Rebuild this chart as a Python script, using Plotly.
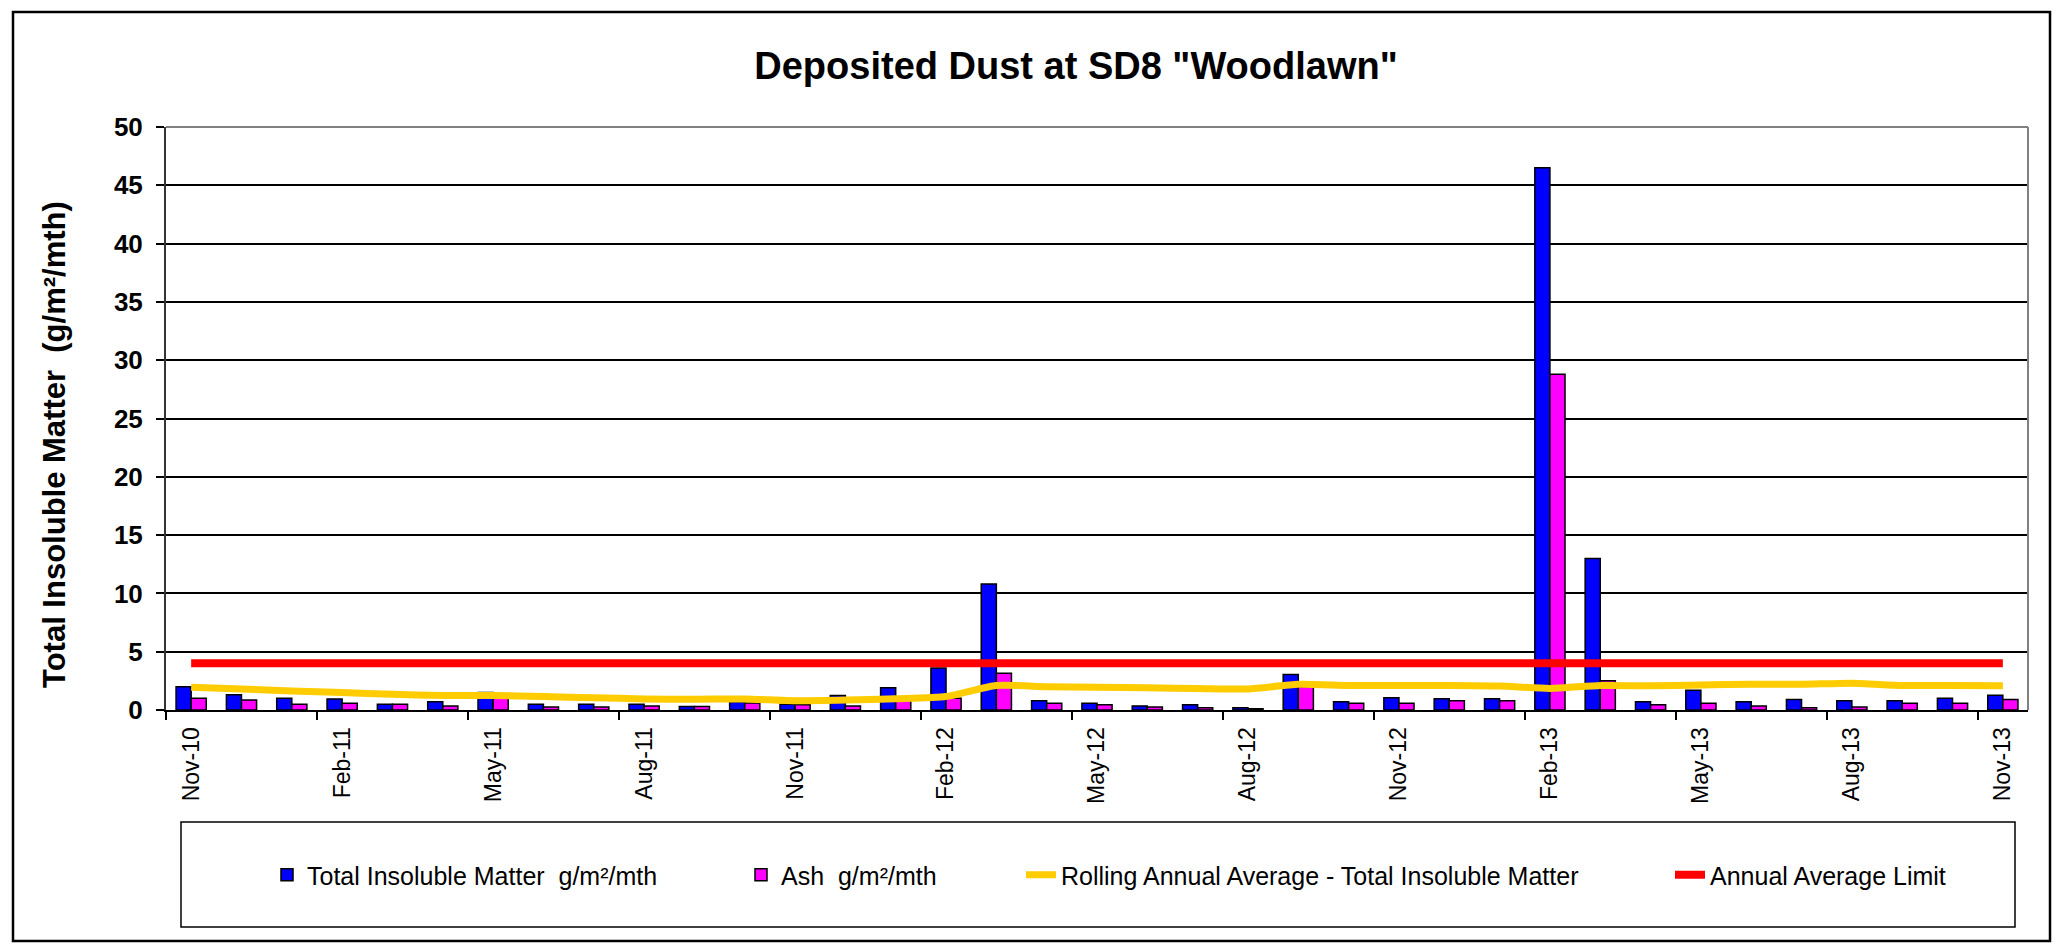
import plotly.graph_objects as go

months = ["Nov-10", "Dec-10", "Jan-11", "Feb-11", "Mar-11", "Apr-11", "May-11", "Jun-11", "Jul-11",
          "Aug-11", "Sep-11", "Oct-11", "Nov-11", "Dec-11", "Jan-12", "Feb-12", "Mar-12", "Apr-12",
          "May-12", "Jun-12", "Jul-12", "Aug-12", "Sep-12", "Oct-12", "Nov-12", "Dec-12", "Jan-13",
          "Feb-13", "Mar-13", "Apr-13", "May-13", "Jun-13", "Jul-13", "Aug-13", "Sep-13", "Oct-13",
          "Nov-13"]
tim = [2.0, 1.3, 1.0, 0.95, 0.5, 0.7, 1.5, 0.5, 0.5, 0.5, 0.3, 0.7, 0.5, 1.25, 1.9, 3.6, 10.8, 0.8,
       0.57, 0.35, 0.46, 0.2, 3.05, 0.7, 1.06, 0.97, 0.97, 46.5, 13.0, 0.7, 1.7, 0.7, 0.9, 0.8, 0.8,
       1.0, 1.26]
ash = [1.0, 0.86, 0.5, 0.57, 0.49, 0.34, 1.0, 0.26, 0.26, 0.34, 0.29, 0.6, 0.45, 0.34, 0.9, 1.0,
       3.15, 0.57, 0.46, 0.26, 0.2, 0.11, 2.0, 0.57, 0.57, 0.8, 0.8, 28.8, 2.5, 0.46, 0.57, 0.34,
       0.2, 0.26, 0.57, 0.57, 0.89]
rolling = [1.95, 1.8, 1.63, 1.5, 1.35, 1.25, 1.25, 1.15, 1.05, 0.95, 0.92, 0.95, 0.8, 0.86, 0.97,
           1.15, 2.1, 2.0, 1.95, 1.9, 1.85, 1.8, 2.2, 2.1, 2.1, 2.1, 2.05, 1.85, 2.1, 2.07, 2.15,
           2.2, 2.2, 2.3, 2.1, 2.1, 2.07]
limit = [4] * len(months)

x = list(range(len(months)))
label_idx = x[::3]

FONT = "Liberation Sans, Arial, sans-serif"
W, H = 2058, 948
L, R, T, B = 166, 2028, 127, 710


def px(p):
    return (p - L) / (R - L)


def py(p):
    return (B - p) / (B - T)


fig = go.Figure()
fig.add_trace(go.Bar(x=x, y=tim, name="Total Insoluble Matter  g/m²/mth",
                     marker=dict(color="#0000FF", line=dict(color="black", width=1.5)),
                     legend="legend"))
fig.add_trace(go.Bar(x=x, y=ash, name="Ash  g/m²/mth",
                     marker=dict(color="#FF00FF", line=dict(color="black", width=1.5)),
                     legend="legend2"))
fig.add_trace(go.Scatter(x=x, y=rolling, mode="lines",
                         name="Rolling Annual Average - Total Insoluble Matter",
                         line=dict(color="#FFCC00", width=7, shape="spline", smoothing=0.6),
                         legend="legend3"))
fig.add_trace(go.Scatter(x=x, y=limit, mode="lines", name="Annual Average Limit",
                         line=dict(color="#FF0000", width=8), legend="legend4"))

leg_common = dict(orientation="h", yanchor="middle", y=py(875), xanchor="left",
                  bgcolor="rgba(0,0,0,0)", borderwidth=0,
                  font=dict(family=FONT, size=25, color="black"))
text_starts = [312, 786, 1066, 1715]

fig.update_layout(
    width=W, height=H,
    margin=dict(l=L, r=W - R, t=T, b=H - B),
    paper_bgcolor="white", plot_bgcolor="white",
    barmode="group", bargap=0.4, bargroupgap=0,
    title=dict(text="Deposited Dust at SD8 \"Woodlawn\"", x=1076 / W, xref="container",
               xanchor="center", y=1 - 66 / H, yref="container", yanchor="middle",
               font=dict(family=FONT, size=38, color="black", weight=700)),
    legend=dict(leg_common, x=px(text_starts[0] - 45)),
    legend2=dict(leg_common, x=px(text_starts[1] - 45)),
    legend3=dict(leg_common, x=px(text_starts[2] - 45)),
    legend4=dict(leg_common, x=px(text_starts[3] - 45)),
    showlegend=True,
)

fig.update_xaxes(
    range=[-0.5, len(months) - 0.5],
    tickmode="array", tickvals=label_idx, ticktext=[months[i] for i in label_idx],
    tickangle=-90, ticks="", ticklabelstandoff=6,
    tickfont=dict(family=FONT, size=23, color="black"),
    minor=dict(tick0=-0.5, dtick=3, ticks="outside", ticklen=8, tickcolor="black",
               tickwidth=1.5, showgrid=False),
    showgrid=False, zeroline=False,
    showline=True, linecolor="black", linewidth=2,
)
fig.update_yaxes(
    range=[0, 50], dtick=5, tick0=0,
    ticks="outside", ticklen=8, tickcolor="black", tickwidth=1.5,
    ticklabelstandoff=8,
    tickfont=dict(family=FONT, size=26, color="black", weight=700),
    showgrid=True, gridcolor="black", gridwidth=1.5,
    zeroline=False, showline=True, linecolor="#333333", linewidth=2,
)

# y axis title
fig.add_annotation(text="Total Insoluble Matter  (g/m²/mth)", textangle=-90,
                   xref="paper", yref="paper", x=px(54), y=py(445),
                   xanchor="center", yanchor="middle", showarrow=False,
                   font=dict(family=FONT, size=31, color="black", weight=700))

# plot-area border (top, right) in gray
fig.add_shape(type="line", xref="paper", yref="paper", x0=0, x1=1, y0=1, y1=1,
              line=dict(color="#808080", width=2))
fig.add_shape(type="line", xref="paper", yref="paper", x0=1, x1=1, y0=0, y1=1,
              line=dict(color="#808080", width=2))
# legend box
fig.add_shape(type="rect", xref="paper", yref="paper", x0=px(181), x1=px(2015),
              y0=py(927), y1=py(822), line=dict(color="black", width=1.5), layer="below")
# outer chart border
fig.add_shape(type="rect", xref="paper", yref="paper", x0=px(13), x1=px(2050),
              y0=py(941), y1=py(12), line=dict(color="black", width=2.5), layer="below")

fig.write_html("out.html", config={"displayModeBar": False},
               post_script="document.body.style.margin='0';")
